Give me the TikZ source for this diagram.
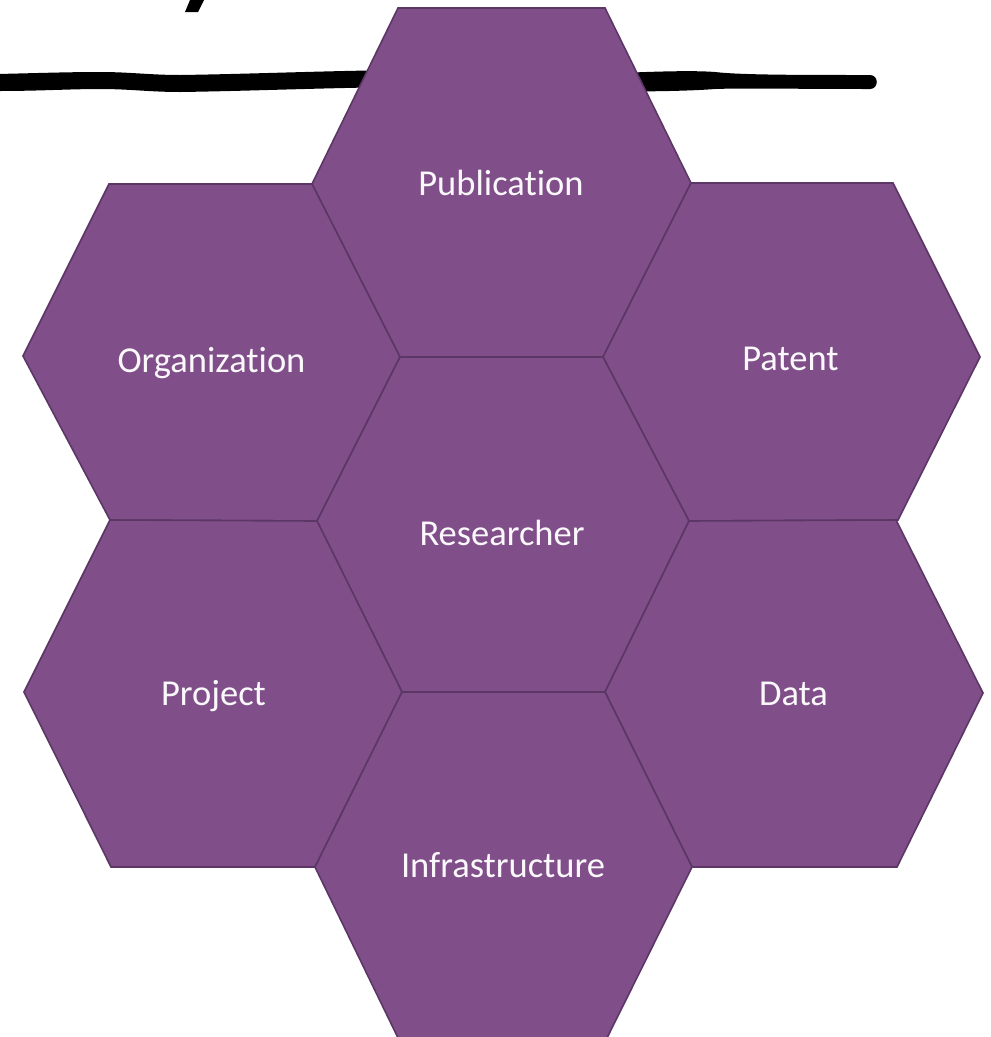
\documentclass[tikz,border=0pt]{standalone}
\usepackage{fontspec}
\setmainfont{Carlito}[Ligatures=NoCommon]
\definecolor{hexfill}{HTML}{804F8A}
\definecolor{hexline}{HTML}{5C3766}
\definecolor{labeltxt}{HTML}{FBF8FB}
\tikzset{
  hexcellstyle/.style={fill=hexfill, draw=hexline, line width=1.6pt, line join=miter},
  hexlabel/.style={anchor=base, text=labeltxt, font=\fontsize{36.5}{40}\selectfont, inner sep=0pt},
  inkstroke/.style={fill=black, draw=none}
}
\begin{document}
\begin{tikzpicture}[x=1pt,y=-1pt]
\useasboundingbox[fill=white] (0,0) rectangle (991,1037);
% handwritten strokes behind the hexagons
\fill[inkstroke] (190,0) -- (204,0) -- (198,12) -- (185,12) -- cycle;
\fill[inkstroke] (-2,74) .. controls (40,73) and (70,72) .. (100,72)
  .. controls (130,72) and (150,75) .. (180,75)
  .. controls (250,74) and (320,71) .. (400,70)
  -- (400,87) .. controls (320,88) and (250,91) .. (180,92)
  .. controls (150,92) and (130,89) .. (100,89)
  .. controls (70,89) and (40,91) .. (-2,91) -- cycle;
\fill[inkstroke] (600,74) .. controls (640,72) and (690,70) .. (715,72)
  .. controls (740,75) and (800,75) .. (870,75)
  .. controls (879,75) and (879,89) .. (870,89)
  .. controls (800,89) and (740,88) .. (715,89)
  .. controls (690,91) and (640,92) .. (600,91) -- cycle;
% shared corners
\coordinate (p1) at (312,184);
\coordinate (p2) at (400,357);
\coordinate (p3) at (603,357);
\coordinate (p4) at (691,183);
\coordinate (p5) at (317,521);
\coordinate (p6) at (689,521);
\coordinate (p7) at (402,692);
\coordinate (p8) at (605,692);
\coordinate (p9) at (315,867);
\coordinate (p10) at (692,867);
\coordinate (orgbl) at (110,520);
\coordinate (datatr) at (896,520);
% hexagons
\filldraw[hexcellstyle] (p1) -- (398,8) -- (605,8) -- (p4) -- (p3) -- (p2) -- cycle;          % Publication
\filldraw[hexcellstyle] (23,356) -- (109,184) -- (p1) -- (p2) -- (p5) -- (orgbl) -- cycle;     % Organization
\filldraw[hexcellstyle] (p3) -- (p4) -- (893,183) -- (980,357) -- (898,520) -- (p6) -- cycle; % Patent
\filldraw[hexcellstyle] (p5) -- (p2) -- (p3) -- (p6) -- (p8) -- (p7) -- cycle;                % Researcher
\filldraw[hexcellstyle] (24,692) -- (orgbl) -- (p5) -- (p7) -- (p9) -- (111,867) -- cycle;     % Project
\filldraw[hexcellstyle] (p8) -- (p6) -- (datatr) -- (983,693) -- (897,867) -- (p10) -- cycle; % Data
\filldraw[hexcellstyle] (p9) -- (p7) -- (p8) -- (p10) -- (605,1042) -- (400,1042) -- cycle;   % Infrastructure
% labels
\node[hexlabel] (publication) at (501,195) {Publication};
\node[hexlabel] (organization) at (211.5,372) {Organization};
\node[hexlabel] (patent) at (790.5,370) {Patent};
\node[hexlabel] (researcher) at (502,545) {Researcher};
\node[hexlabel] (project) at (213.5,705) {Project};
\node[hexlabel] (data) at (793.5,705) {Data};
\node[hexlabel] (infrastructure) at (503,877) {Infrastructure};
\end{tikzpicture}
\end{document}
